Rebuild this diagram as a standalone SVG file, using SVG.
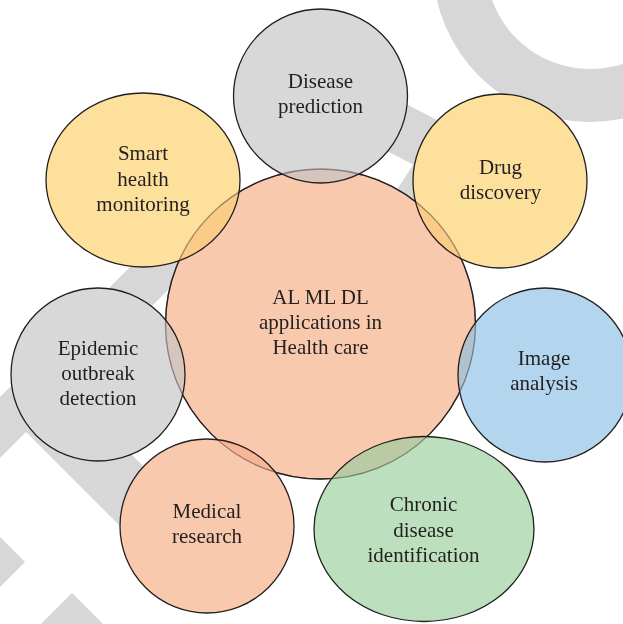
<svg xmlns="http://www.w3.org/2000/svg" width="623" height="624" viewBox="0 0 623 624">
  <style>
    .wm { fill: #d7d7d7; }
    .node { stroke: #231f20; stroke-width: 1.3; }
    .gray { fill: #d8d8d8; }
    .yellow { fill: #fde09c; }
    .salmon { fill: #f9c9ad; }
    .blue { fill: #b3d5ee; }
    .green { fill: #bcdfbd; }
    text { font-family: "Liberation Serif", "Times New Roman", serif; font-size: 21px; fill: #231f20; text-anchor: middle; }
  </style>
  <rect width="623" height="624" fill="#ffffff"/>
  <g id="background">
    <path class="wm" fill-rule="evenodd" d="M433,-35 A157,157 0 1 0 747,-35 A157,157 0 1 0 433,-35 Z M486,-35 A104,104 0 1 0 694,-35 A104,104 0 1 0 486,-35 Z"/>
    <polygon class="wm" points="330,64.4 490,147.6 490,204.6 330,121.4"/>
    <polygon class="wm" points="413,165 450,184 450,260 351,260"/>
    <polygon class="wm" points="-10,407 225,172 225,233 67.5,390.5 200,523 200,606 26,432 -10,468"/>
    <polygon class="wm" points="0,537 25,562 0,587"/>
    <polygon class="wm" points="72,593 103,624 41,624"/>
    <circle cx="320.5" cy="324" r="155" fill="#fbdcc7" stroke="#231f20" stroke-width="1.3"/>
  </g>
  <g id="node-disease-prediction">
    <circle class="node gray" cx="320.5" cy="96" r="87"/>
    <text x="320.5" y="88">Disease</text>
    <text x="320.5" y="113">prediction</text>
  </g>
  <g id="node-smart-health">
    <ellipse class="node yellow" cx="143" cy="180" rx="97" ry="87"/>
    <text x="143" y="160">Smart</text>
    <text x="143" y="186">health</text>
    <text x="143" y="211">monitoring</text>
  </g>
  <g id="node-drug-discovery">
    <circle class="node yellow" cx="500" cy="181" r="87"/>
    <text x="500.5" y="174">Drug</text>
    <text x="500.5" y="199">discovery</text>
  </g>
  <g id="node-epidemic">
    <ellipse class="node gray" cx="98" cy="374.5" rx="87" ry="86.5"/>
    <text x="98" y="355">Epidemic</text>
    <text x="98" y="380">outbreak</text>
    <text x="98" y="405">detection</text>
  </g>
  <g id="node-image-analysis">
    <circle class="node blue" cx="545" cy="375" r="87"/>
    <text x="544" y="365">Image</text>
    <text x="544" y="390">analysis</text>
  </g>
  <g id="node-medical-research">
    <circle class="node salmon" cx="207" cy="526" r="87"/>
    <text x="207" y="518">Medical</text>
    <text x="207" y="543">research</text>
  </g>
  <g id="node-chronic-disease">
    <ellipse class="node green" cx="424" cy="529" rx="110" ry="92.5"/>
    <text x="423.5" y="511">Chronic</text>
    <text x="423.5" y="537">disease</text>
    <text x="423.5" y="562">identification</text>
  </g>
  <g id="node-center">
    <circle cx="320.5" cy="324" r="155" fill="#f9c9ad" fill-opacity="0.4" style="mix-blend-mode:multiply"/>
    <circle cx="320.5" cy="324" r="155" fill="none" stroke="#231f20" stroke-opacity="0.45" stroke-width="1.3"/>
    <text x="320.5" y="304">AL ML DL</text>
    <text x="320.5" y="329">applications in</text>
    <text x="320.5" y="354">Health care</text>
  </g>
</svg>
